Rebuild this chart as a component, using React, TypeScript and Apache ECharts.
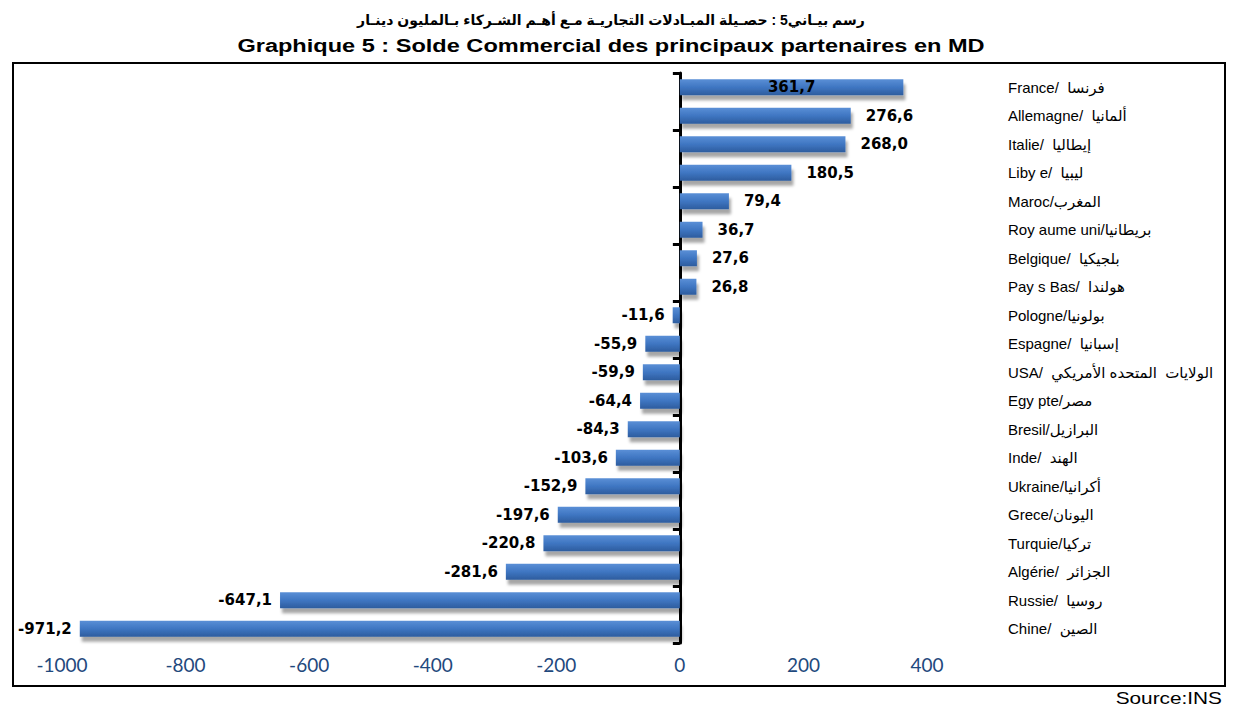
import React, { useEffect, useRef } from "react";
import * as echarts from "echarts";

const categories = [
  "France/  فرنسا",
  "Allemagne/  ألمانيا",
  "Italie/  إيطاليا",
  "Liby e/  ليبيا",
  "Maroc/المغرب",
  "Roy aume uni/بريطانيا",
  "Belgique/  بلجيكيا",
  "Pay s Bas/  هولندا",
  "Pologne/بولونيا",
  "Espagne/  إسبانيا",
  "USA/  الولايات  المتحده الأمريكي",
  "Egy pte/مصر",
  "Bresil/البرازيل",
  "Inde/  الهند",
  "Ukraine/أكرانيا",
  "Grece/اليونان",
  "Turquie/تركيا",
  "Algérie/  الجزائر",
  "Russie/  روسيا",
  "Chine/  الصين",
];

const values = [
  361.7, 276.6, 268.0, 180.5, 79.4, 36.7, 27.6, 26.8, -11.6, -55.9, -59.9,
  -64.4, -84.3, -103.6, -152.9, -197.6, -220.8, -281.6, -647.1, -971.2,
];

const xTicks = { min: -1000, max: 400, interval: 200 };

const titleAr =
  "رسم بيـاني5 : حصـيلة المبـادلات التجاريـة مـع أهـم الشـركاء بـالمليون دينـار";
const titleFr = "Graphique 5 : Solde Commercial des principaux partenaires en MD";
const sourceText = "Source:INS";

export default function App() {
  const ref = useRef<HTMLDivElement>(null);

  useEffect(() => {
    if (!ref.current) return;
    const chart = echarts.init(ref.current, null, { renderer: "svg" });

    const barColor = new echarts.graphic.LinearGradient(0, 0, 0, 1, [
      { offset: 0, color: "#5A8FD6" },
      { offset: 0.5, color: "#3F76C2" },
      { offset: 1, color: "#2D5C9E" },
    ]);

    const data = values.map((v, i) => {
      let position: string = v < 0 ? "left" : "right";
      if (i === 0) position = "inside";
      return {
        value: v,
        label: {
          position,
          distance: v < 0 ? 8 : 15,
        },
      };
    });

    chart.setOption({
      animation: false,
      backgroundColor: "#ffffff",
      grid: { left: 62, right: 308, top: 73, bottom: 66, containLabel: false },
      xAxis: {
        type: "value",
        min: xTicks.min,
        max: xTicks.max,
        interval: xTicks.interval,
        axisLine: { show: false },
        axisTick: { show: false },
        splitLine: { show: false },
        axisLabel: {
          color: "#1F497D",
          fontSize: 19,
          fontFamily: "Lato",
          margin: 12,
          formatter: (v: number) => String(v),
        },
      },
      yAxis: [
        {
          type: "category",
          data: categories,
          inverse: true,
          position: "right",
          axisLine: { show: false, onZero: false },
          axisTick: { show: false },
          axisLabel: {
            margin: 81,
            align: "left",
            color: "#000",
            fontSize: 15,
            fontFamily: "Arial, 'Liberation Sans', 'DejaVu Sans'",
          },
        },
        {
          type: "category",
          data: categories,
          inverse: true,
          position: "left",
          axisLine: {
            show: true,
            onZero: true,
            lineStyle: { color: "#000", width: 3 },
          },
          axisTick: {
            show: true,
            interval: 1,
            length: 7,
            lineStyle: { color: "#000", width: 3 },
          },
          axisLabel: { show: false },
          splitLine: { show: false },
        },
      ],
      series: [
        {
          type: "bar",
          yAxisIndex: 0,
          data,
          barWidth: 16,
          itemStyle: {
            color: barColor,
            shadowColor: "rgba(0,0,0,0.35)",
            shadowBlur: 3,
            shadowOffsetX: 2,
            shadowOffsetY: 5,
          },
          label: {
            show: true,
            color: "#000",
            fontSize: 15,
            fontWeight: "bold",
            fontFamily: "'DejaVu Sans'",
            formatter: (p: any) => p.value.toFixed(1).replace(".", ","),
          },
        },
      ],
      graphic: [
        {
          type: "rect",
          shape: { x: 13, y: 63, width: 1212, height: 623 },
          style: { fill: "none", stroke: "#000", lineWidth: 2 },
          z: -1,
        },
        {
          type: "text",
          x: 611,
          y: 20,
          style: {
            text: titleAr,
            fontSize: 14,
            fontWeight: "bold",
            fontFamily: "Arial, 'DejaVu Sans'",
            fill: "#000",
            textAlign: "center",
            textVerticalAlign: "middle",
          },
        },
        {
          type: "text",
          x: 611,
          y: 46,
          scaleX: 1.24,
          style: {
            text: titleFr,
            fontSize: 19,
            fontWeight: "bold",
            fontFamily: "Arial, 'Liberation Sans'",
            fill: "#000",
            textAlign: "center",
            textVerticalAlign: "middle",
          },
        },
        {
          type: "text",
          x: 1222,
          y: 698,
          scaleX: 1.3,
          style: {
            text: sourceText,
            fontSize: 16,
            fontFamily: "Arial, 'Liberation Sans'",
            fill: "#000",
            textAlign: "right",
            textVerticalAlign: "middle",
          },
        },
      ],
    });

    return () => chart.dispose();
  }, []);

  return (
    <div
      ref={ref}
      style={{ position: "fixed", left: 0, top: 0, width: 1235, height: 709 }}
    />
  );
}
